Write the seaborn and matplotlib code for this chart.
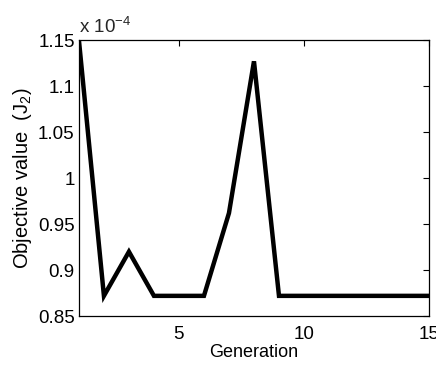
import matplotlib
matplotlib.use("Agg")
import matplotlib.pyplot as plt
from matplotlib.ticker import FormatStrFormatter
import pandas as pd
import seaborn as sns

# objective value J2 per generation, in units of 1e-4
generation = list(range(1, 16))
objective = [1.150, 0.872, 0.920, 0.872, 0.872, 0.872, 0.962, 1.127,
             0.872, 0.872, 0.872, 0.872, 0.872, 0.872, 0.872]
x_ticks = [5, 10, 15]
y_ticks = [0.85, 0.9, 0.95, 1.0, 1.05, 1.1, 1.15]

sns.set_theme(style="white")
plt.rcParams["font.family"] = ["Liberation Sans", "DejaVu Sans"]
plt.rcParams["mathtext.fontset"] = "custom"
plt.rcParams["mathtext.rm"] = "Liberation Sans"
plt.rcParams["mathtext.it"] = "Liberation Sans"

df = pd.DataFrame(dict(generation=generation, objective=objective))

fig = plt.figure(figsize=(4.36, 3.65), dpi=100)
ax = fig.add_axes([0.181, 0.134, 0.803, 0.756])
sns.lineplot(x="generation", y="objective", data=df, ax=ax,
             color="black", linewidth=3.2, solid_joinstyle="miter")

ax.set_xlim(1, 15)
ax.set_ylim(0.85, 1.15)
ax.set_xticks(x_ticks)
ax.set_yticks(y_ticks)
ax.yaxis.set_major_formatter(FormatStrFormatter("%g"))
ax.tick_params(direction="in", length=4, width=0.8, labelsize=13.5,
               top=True, right=True, color="black", labelcolor="black", pad=3)
ax.tick_params(axis="x", pad=7)
for s in ax.spines.values():
    s.set_visible(True)
    s.set_color("black")
    s.set_linewidth(0.9)

ax.set_xlabel("Generation", fontsize=13, labelpad=1, color="black")
ax.set_ylabel("Objective value  (J$_2$)", fontsize=14.5, labelpad=3, color="black")
ax.text(0.0, 1.012, r"x 10$^{-4}$", transform=ax.transAxes, fontsize=13.5,
        ha="left", va="bottom")

fig.savefig("out.png", dpi=100)
